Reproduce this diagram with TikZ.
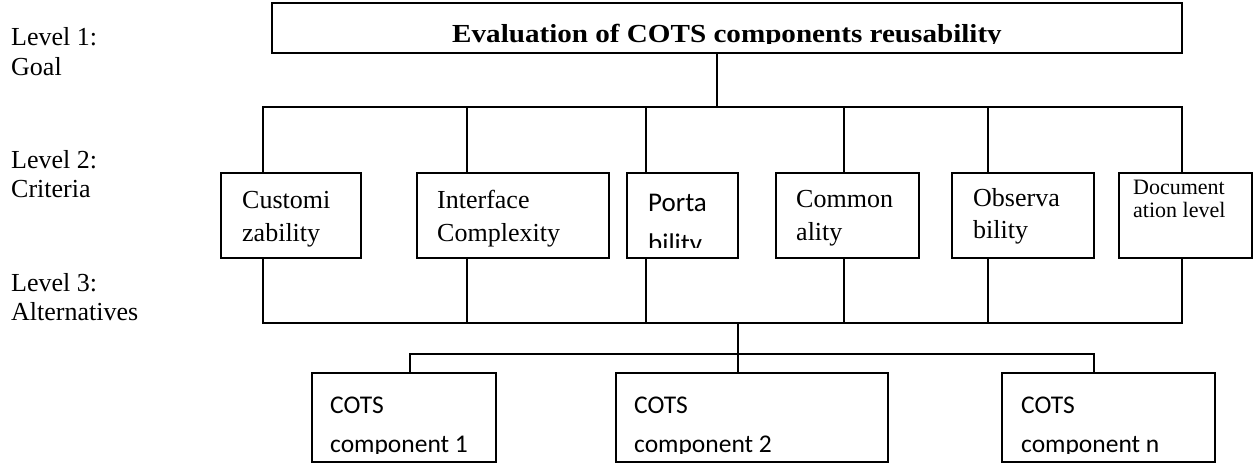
\documentclass[tikz,border=0pt]{standalone}
\usepackage{fontspec}
\setmainfont{Liberation Serif}
\newfontfamily\calib{Carlito}
\usepackage{graphicx}
\begin{document}
\begin{tikzpicture}[x=1pt,y=-1pt,
  box/.style={draw,line width=1.6pt,rectangle,inner sep=0pt,outer sep=0pt,anchor=north west},
  conn/.style={line width=1.6pt},
  txt/.style={anchor=base west,inner sep=0pt,font=\fontsize{26}{30}\selectfont},
  smalltxt/.style={anchor=base west,inner sep=0pt,font=\fontsize{22}{26}\selectfont},
  caltxt/.style={anchor=base west,inner sep=0pt,font=\calib\fontsize{27}{30}\selectfont},
  cotstxt/.style={anchor=base west,inner sep=0pt,font=\calib\fontsize{25.5}{30}\selectfont}]
\useasboundingbox (0,0) rectangle (1254,464);

% level labels
\node[txt] (l1a) at (11,45) {Level 1:};
\node[txt] (l1b) at (11,75) {Goal};
\node[txt] (l2a) at (11,168) {Level 2:};
\node[txt] (l2b) at (11,197) {Criteria};
\node[txt] (l3a) at (11,291) {Level 3:};
\node[txt] (l3b) at (11,320) {Alternatives};

% goal
\node[box,minimum width=910pt,minimum height=50pt] (goal) at (272,3) {};
\begin{scope}
\clip (272,0) rectangle (1182,43);
\node[anchor=base,inner sep=0pt,font=\bfseries\fontsize{26}{30}\selectfont] (goalt) at (727,42) {\scalebox{1.12}[1]{Evaluation of COTS components reusability}};
\end{scope}

% criteria boxes
\node[box,minimum width=140pt,minimum height=85pt] (c1) at (221,173) {};
\node[box,minimum width=192pt,minimum height=85pt] (c2) at (417,173) {};
\node[box,minimum width=111pt,minimum height=85pt] (c3) at (627,173) {};
\node[box,minimum width=143pt,minimum height=85pt] (c4) at (776,173) {};
\node[box,minimum width=142pt,minimum height=85pt] (c5) at (952,173) {};
\node[box,minimum width=133pt,minimum height=85pt] (c6) at (1119,173) {};

\node[txt] (c1a) at (242,208) {Customi};
\node[txt] (c1b) at (242,241) {zability};
\node[txt] (c2a) at (437,208) {Interface};
\node[txt] (c2b) at (437,241) {Complexity};
\node[caltxt] (c3a) at (648,211) {Porta};
\begin{scope}
\clip (627,173) rectangle (738,247);
\node[caltxt] (c3b) at (648,252) {bility};
\end{scope}
\node[txt] (c4a) at (796,207) {Common};
\node[txt] (c4b) at (796,240) {ality};
\node[txt] (c5a) at (973,206) {Observa};
\node[txt] (c5b) at (973,238) {bility};
\node[smalltxt] (c6a) at (1133,194) {Document};
\node[smalltxt] (c6b) at (1133,217) {ation level};

% alternatives
\node[box,minimum width=184pt,minimum height=89pt] (a1) at (312,373) {};
\node[box,minimum width=272pt,minimum height=89pt] (a2) at (616,373) {};
\node[box,minimum width=213pt,minimum height=89pt] (a3) at (1002,373) {};
\node[cotstxt] (a1a) at (330,413) {COTS};
\node[cotstxt] (a2a) at (634,413) {COTS};
\node[cotstxt] (a3a) at (1021,413) {COTS};
\begin{scope}
\clip (300,373) rectangle (1230,453.5);
\node[cotstxt] (a1b) at (330,452) {component 1};
\node[cotstxt] (a2b) at (634,452) {component 2};
\node[cotstxt] (a3b) at (1021,452) {component n};
\end{scope}

% connectors: top bus
\coordinate (g) at (717,107);
\coordinate (t1) at (263,107);
\coordinate (t2) at (467,107);
\coordinate (t3) at (646,107);
\coordinate (t4) at (844,107);
\coordinate (t5) at (988,107);
\coordinate (t6) at (1182,107);
\draw[conn] (g |- goal.south) -- (g);
\draw[conn] (t1 |- c1.north) -- (t1) -- (t6) -- (t6 |- c6.north);
\draw[conn] (t2) -- (t2 |- c2.north);
\draw[conn] (t3) -- (t3 |- c3.north);
\draw[conn] (t4) -- (t4 |- c4.north);
\draw[conn] (t5) -- (t5 |- c5.north);

% bottom bus
\coordinate (s1) at (263,323);
\coordinate (s2) at (467,323);
\coordinate (s3) at (646,323);
\coordinate (s4) at (844,323);
\coordinate (s5) at (988,323);
\coordinate (s6) at (1182,323);
\draw[conn] (s1 |- c1.south) -- (s1) -- (s6) -- (s6 |- c6.south);
\draw[conn] (s2 |- c2.south) -- (s2);
\draw[conn] (s3 |- c3.south) -- (s3);
\draw[conn] (s4 |- c4.south) -- (s4);
\draw[conn] (s5 |- c5.south) -- (s5);

% to alternatives
\coordinate (m) at (738,323);
\coordinate (u1) at (410,354);
\coordinate (u3) at (1094,354);
\draw[conn] (m) -- (m |- a2.north);
\draw[conn] (u1 |- a1.north) -- (u1) -- (u3) -- (u3 |- a3.north);
\end{tikzpicture}
\end{document}
